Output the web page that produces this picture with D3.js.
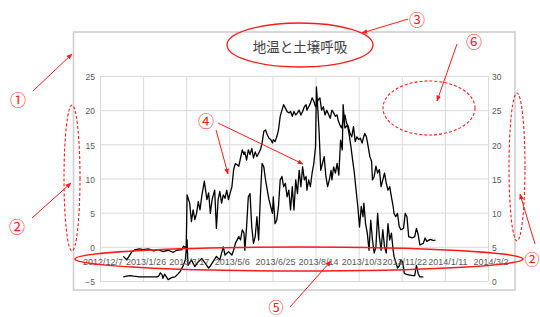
<!DOCTYPE html>
<html><head><meta charset="utf-8">
<script src="https://cdn.jsdelivr.net/npm/d3@7"></script>
<style>
html,body{margin:0;padding:0;background:#fff;}
svg{display:block;}
</style></head>
<body>
<script>
// ---------- DATA ----------
const title = "地温と土壌呼吸";
const xLabels = ["2012/12/7","2013/1/26","2013/3/17","2013/5/6","2013/6/25","2013/8/14","2013/10/3","2013/11/22","2014/1/11","2014/3/2"];
const yLeftTicks = [-5,0,5,10,15,20,25];
const yRightTicks = [0,5,10,15,20,25,30];
// left axis series
const soilTemp = [["2013-01-03",-1.4],["2013-01-07",-1.9],["2013-01-13",-0.7],["2013-01-17",-0.4],["2013-01-22",-0.3],["2013-01-26",-0.4],["2013-02-01",-0.3],["2013-02-07",-0.6],["2013-02-13",-0.4],["2013-02-18",-0.7],["2013-02-24",-0.5],["2013-03-02",-0.8],["2013-03-06",-0.5],["2013-03-12",-0.4],["2013-03-14",0.1],["2013-03-16",-0.1],["2013-03-17",0.0],["2013-03-18",7.6],["2013-03-21",6.4],["2013-03-23",3.7],["2013-03-25",5.4],["2013-03-27",4.0],["2013-03-29",4.9],["2013-03-31",6.6],["2013-04-02",5.4],["2013-04-04",7.4],["2013-04-07",9.6],["2013-04-10",6.9],["2013-04-12",7.9],["2013-04-14",4.9],["2013-04-16",6.9],["2013-04-19",8.3],["2013-04-21",2.7],["2013-04-23",6.9],["2013-04-25",8.1],["2013-04-27",6.4],["2013-04-29",7.6],["2013-05-01",7.1],["2013-05-03",8.3],["2013-05-05",6.9],["2013-05-07",7.9],["2013-05-09",8.8],["2013-05-11",11.3],["2013-05-13",12.2],["2013-05-15",12.0],["2013-05-17",11.8],["2013-05-19",13.0],["2013-05-21",14.2],["2013-05-23",13.5],["2013-05-24",13.9],["2013-05-26",12.7],["2013-05-28",14.2],["2013-05-30",13.5],["2013-06-01",14.4],["2013-06-03",13.0],["2013-06-05",13.9],["2013-06-07",13.2],["2013-06-09",13.7],["2013-06-11",14.2],["2013-06-13",15.2],["2013-06-15",16.9],["2013-06-17",17.1],["2013-06-19",16.4],["2013-06-21",15.9],["2013-06-23",15.7],["2013-06-25",15.2],["2013-06-26",15.7],["2013-06-28",15.4],["2013-06-30",16.1],["2013-07-02",17.1],["2013-07-04",19.1],["2013-07-06",20.0],["2013-07-08",20.8],["2013-07-10",20.3],["2013-07-12",19.8],["2013-07-14",19.6],["2013-07-16",19.8],["2013-07-18",19.1],["2013-07-20",19.8],["2013-07-22",19.3],["2013-07-24",19.6],["2013-07-26",20.0],["2013-07-28",19.3],["2013-07-30",19.8],["2013-08-01",20.5],["2013-08-03",20.8],["2013-08-04",20.0],["2013-08-06",20.5],["2013-08-08",21.0],["2013-08-10",21.8],["2013-08-12",21.3],["2013-08-14",20.5],["2013-08-17",21.5],["2013-08-19",21.8],["2013-08-21",20.0],["2013-08-23",20.5],["2013-08-25",19.3],["2013-08-27",20.0],["2013-08-31",18.8],["2013-09-02",20.0],["2013-09-04",19.6],["2013-09-06",19.1],["2013-09-08",19.3],["2013-09-09",18.6],["2013-09-11",17.9],["2013-09-13",17.4],["2013-09-15",18.4],["2013-09-17",19.3],["2013-09-19",18.1],["2013-09-21",17.6],["2013-09-23",16.6],["2013-09-25",16.1],["2013-09-27",17.6],["2013-09-29",15.4],["2013-10-01",16.1],["2013-10-03",15.7],["2013-10-05",15.9],["2013-10-07",15.2],["2013-10-08",15.7],["2013-10-10",16.6],["2013-10-12",16.1],["2013-10-14",14.7],["2013-10-16",13.2],["2013-10-18",12.5],["2013-10-19",9.8],["2013-10-21",10.3],["2013-10-23",11.8],["2013-10-25",10.8],["2013-10-27",11.3],["2013-10-29",8.8],["2013-10-31",9.8],["2013-11-02",10.8],["2013-11-04",9.3],["2013-11-06",8.3],["2013-11-08",8.8],["2013-11-10",7.3],["2013-11-12",5.9],["2013-11-13",4.9],["2013-11-15",4.4],["2013-11-17",4.9],["2013-11-19",3.0],["2013-11-21",2.5],["2013-11-24",2.7],["2013-11-26",4.9],["2013-11-28",4.4],["2013-11-30",1.5],["2013-12-04",1.3],["2013-12-07",1.5],["2013-12-09",2.7],["2013-12-11",1.8],["2013-12-13",0.3],["2013-12-17",0.5],["2013-12-19",1.3],["2013-12-21",0.8],["2013-12-25",1.1],["2013-12-29",0.9],["2013-12-31",1.0]];
// right axis series
const soilResp = [["2013-01-03",0.6],["2013-01-07",0.7],["2013-01-11",0.8],["2013-01-15",0.7],["2013-01-22",0.6],["2013-02-03",0.6],["2013-02-11",0.6],["2013-02-13",0.7],["2013-02-15",1.2],["2013-02-17",0.9],["2013-02-18",0.4],["2013-02-20",1.0],["2013-02-22",0.6],["2013-02-24",0.2],["2013-02-28",0.5],["2013-03-04",0.6],["2013-03-08",1.1],["2013-03-10",1.4],["2013-03-13",2.1],["2013-03-16",3.1],["2013-03-18",6.0],["2013-03-19",2.3],["2013-03-23",3.1],["2013-03-27",2.1],["2013-03-31",2.8],["2013-04-04",3.3],["2013-04-08",2.6],["2013-04-12",1.9],["2013-04-14",2.2],["2013-04-17",2.8],["2013-04-21",3.6],["2013-04-25",3.1],["2013-04-29",5.0],["2013-05-01",3.8],["2013-05-05",4.3],["2013-05-09",3.8],["2013-05-11",4.5],["2013-05-13",5.5],["2013-05-17",6.5],["2013-05-19",6.0],["2013-05-21",7.5],["2013-05-23",7.0],["2013-05-24",4.5],["2013-05-26",7.9],["2013-05-28",12.3],["2013-05-30",12.8],["2013-06-01",7.9],["2013-06-03",5.5],["2013-06-05",6.5],["2013-06-07",9.4],["2013-06-09",6.0],["2013-06-11",12.3],["2013-06-13",17.2],["2013-06-15",16.7],["2013-06-17",14.8],["2013-06-19",13.3],["2013-06-21",11.9],["2013-06-23",10.9],["2013-06-25",9.9],["2013-06-26",12.3],["2013-06-28",8.4],["2013-06-30",8.9],["2013-07-02",10.9],["2013-07-04",14.8],["2013-07-06",15.3],["2013-07-08",13.8],["2013-07-10",14.3],["2013-07-12",12.3],["2013-07-14",13.3],["2013-07-16",10.4],["2013-07-18",13.8],["2013-07-20",10.4],["2013-07-22",14.8],["2013-07-24",12.8],["2013-07-26",16.2],["2013-07-28",13.8],["2013-07-30",16.7],["2013-08-01",14.8],["2013-08-03",15.3],["2013-08-04",13.3],["2013-08-06",14.8],["2013-08-08",13.8],["2013-08-10",15.8],["2013-08-12",17.2],["2013-08-14",19.7],["2013-08-15",28.4],["2013-08-16",26.5],["2013-08-18",22.1],["2013-08-20",16.2],["2013-08-22",17.2],["2013-08-24",18.2],["2013-08-26",15.3],["2013-08-28",13.8],["2013-08-30",14.8],["2013-09-01",16.2],["2013-09-02",14.8],["2013-09-04",16.7],["2013-09-06",15.8],["2013-09-08",17.2],["2013-09-10",15.5],["2013-09-12",20.6],["2013-09-14",19.2],["2013-09-15",25.8],["2013-09-17",22.4],["2013-09-20",22.8],["2013-09-22",21.4],["2013-09-24",19.7],["2013-09-26",17.7],["2013-09-28",15.8],["2013-09-30",13.3],["2013-10-02",10.9],["2013-10-04",7.9],["2013-10-06",10.9],["2013-10-08",9.4],["2013-10-09",11.4],["2013-10-11",8.4],["2013-10-13",7.0],["2013-10-15",4.5],["2013-10-17",8.9],["2013-10-19",6.0],["2013-10-21",4.1],["2013-10-23",5.0],["2013-10-25",9.9],["2013-10-27",6.5],["2013-10-29",4.5],["2013-10-31",7.5],["2013-11-02",5.0],["2013-11-04",4.1],["2013-11-06",8.4],["2013-11-08",6.0],["2013-11-10",7.0],["2013-11-12",4.5],["2013-11-13",3.6],["2013-11-15",2.8],["2013-11-17",1.9],["2013-11-19",2.2],["2013-11-21",3.1],["2013-11-23",2.8],["2013-11-25",1.1],["2013-11-27",1.0],["2013-11-30",0.9],["2013-12-05",0.8],["2013-12-07",0.8],["2013-12-09",2.3],["2013-12-11",1.1],["2013-12-13",0.6],["2013-12-17",0.6]];
// annotation markers
const marks = ["①","②","③","④","⑤","⑥"];

// ---------- CHART ----------
const W = 540, H = 317;
const svg = d3.select("body").append("svg").attr("width", W).attr("height", H);
const parseISO = d3.timeParse("%Y-%m-%d");
const parseLbl = d3.timeParse("%Y/%m/%d");
const tickDates = xLabels.map(parseLbl);

const plot = {l: 100, r: 488, t: 76, b: 281};
const x = d3.scaleTime().domain([tickDates[0], tickDates[tickDates.length - 1]]).range([plot.l, plot.r]);
const yL = d3.scaleLinear().domain([-5, 25]).range([plot.b, plot.t]);
const yR = d3.scaleLinear().domain([0, 30]).range([plot.b, plot.t]);

const GRID = "#d9d9d9", TXT = "#595959";
const numFont = "'Liberation Sans', Arial, sans-serif";

// outer chart frame
svg.append("rect").attr("x", 73.5).attr("y", 32).attr("width", 441.5).attr("height", 258)
  .attr("fill", "#fff").attr("stroke", "#cfcfcf").attr("stroke-width", 1.6);

// horizontal gridlines
const gy = svg.append("g").attr("transform", `translate(${plot.l},0)`)
  .call(d3.axisLeft(yL).tickValues(yLeftTicks).tickSize(-(plot.r - plot.l)).tickFormat(""));
gy.select(".domain").remove();
gy.selectAll("line").attr("stroke", GRID).attr("stroke-width", 1);
// vertical gridlines
const gx = svg.append("g").attr("transform", `translate(0,${plot.b})`)
  .call(d3.axisBottom(x).tickValues(tickDates).tickSize(-(plot.b - plot.t)).tickFormat(""));
gx.select(".domain").remove();
gx.selectAll("line").attr("stroke", GRID).attr("stroke-width", 1);

// lines
const lineL = d3.line().x(d => x(parseISO(d[0]))).y(d => yL(d[1]));
const lineR = d3.line().x(d => x(parseISO(d[0]))).y(d => yR(d[1]));
svg.append("path").datum(soilTemp).attr("d", lineL).attr("fill", "none")
  .attr("stroke", "#000").attr("stroke-width", 1.3).attr("stroke-linejoin", "round");
svg.append("path").datum(soilResp).attr("d", lineR).attr("fill", "none")
  .attr("stroke", "#000").attr("stroke-width", 1.3).attr("stroke-linejoin", "round");

// left axis labels
const al = svg.append("g").attr("transform", `translate(${plot.l},0)`)
  .call(d3.axisLeft(yL).tickValues(yLeftTicks).tickSize(0).tickPadding(5).tickFormat(d3.format("d")));
al.select(".domain").remove();
al.selectAll("text").attr("fill", TXT).style("font-family", numFont).style("font-size", "8.5px").attr("dy", "0.45em");
// right axis labels
const ar = svg.append("g").attr("transform", `translate(${plot.r},0)`)
  .call(d3.axisRight(yR).tickValues(yRightTicks).tickSize(0).tickPadding(4).tickFormat(d3.format("d")));
ar.select(".domain").remove();
ar.selectAll("text").attr("fill", TXT).style("font-family", numFont).style("font-size", "8.5px").attr("dy", "0.45em");
// category axis labels at y = 0 crossing
const ab = svg.append("g").attr("transform", `translate(0,${yL(0)})`)
  .call(d3.axisBottom(x).tickValues(tickDates).tickSize(0).tickPadding(11.5).tickFormat(d3.timeFormat("%Y/%-m/%-d")));
ab.select(".domain").remove();
ab.selectAll("text").attr("fill", TXT).style("font-family", numFont).style("font-size", "9px").attr("dx", 2.5);

// title
svg.append("text").attr("x", 300).attr("y", 52).attr("text-anchor", "middle")
  .attr("fill", "#404040").style("font-family", "'Noto Sans CJK JP', sans-serif").style("font-size", "13.5px")
  .text(title);

// ---------- ANNOTATIONS ----------
const RED = "#ff1a1a";
const defs = svg.append("defs");
defs.append("marker").attr("id", "ah").attr("viewBox", "0 0 10 10").attr("refX", 9).attr("refY", 5)
  .attr("markerWidth", 6).attr("markerHeight", 6).attr("orient", "auto")
  .append("path").attr("d", "M0,1 L10,5 L0,9 Z").attr("fill", RED);
const ann = svg.append("g");
function ellipse(cx, cy, rx, ry, dashed, w) {
  ann.append("ellipse").attr("cx", cx).attr("cy", cy).attr("rx", rx).attr("ry", ry)
    .attr("fill", "none").attr("stroke", RED).attr("stroke-width", w || 1.2)
    .attr("stroke-dasharray", dashed ? "3,2" : null);
}
function arrow(x1, y1, x2, y2) {
  ann.append("line").attr("x1", x1).attr("y1", y1).attr("x2", x2).attr("y2", y2)
    .attr("stroke", RED).attr("stroke-width", 1).attr("marker-end", "url(#ah)");
}
function label(t, cx, cy, fs) {
  ann.append("text").attr("x", cx).attr("y", cy).attr("text-anchor", "middle").attr("dy", "0.36em")
    .attr("fill", RED).style("font-family", "'Noto Sans CJK JP', sans-serif").style("font-size", (fs || 16) + "px").text(t);
}
ellipse(300, 45, 73, 22, false, 1.3);
ellipse(299, 259, 224, 12, false, 1.5);
ellipse(72, 178, 8, 73, true, 1.1);
ellipse(517, 167, 8, 74, true, 1.1);
ellipse(429, 108, 46, 27, true, 1.1);
arrow(33, 91, 72, 54);
arrow(408, 19, 362, 33);
arrow(32, 218, 71, 183);
arrow(535, 244, 520, 194);
arrow(218, 123, 303, 164);
arrow(216, 130, 228, 174);
arrow(290, 307, 331, 261);
arrow(457, 44, 437, 101);
label(marks[0], 18, 100);
label(marks[1], 17, 227);
label(marks[2], 417, 20);
label(marks[3], 206, 121);
label(marks[4], 276, 307.5, 15);
label(marks[5], 474, 42);
label(marks[1], 532, 260, 15);
</script>
</body></html>
